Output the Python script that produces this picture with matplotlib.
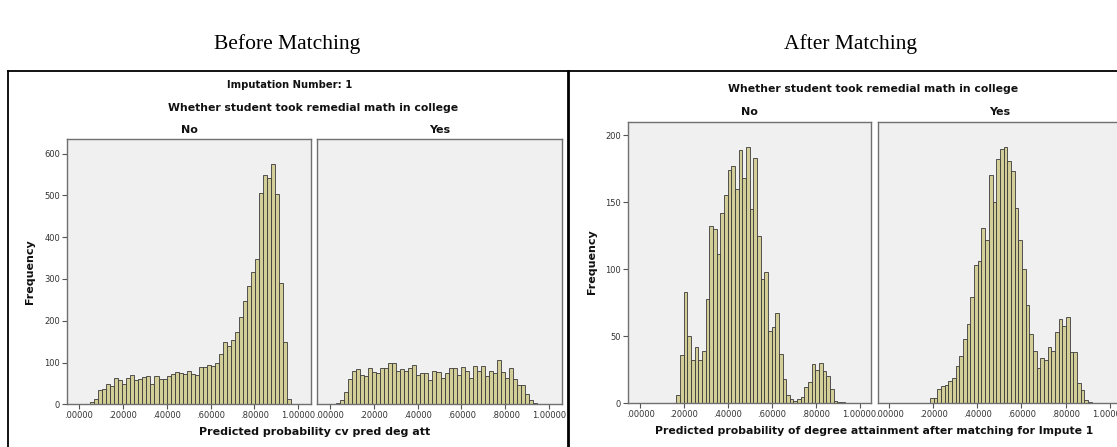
import numpy as np
import matplotlib
matplotlib.use("Agg")
import matplotlib.pyplot as plt
from matplotlib.lines import Line2D

# bar heights (frequency per bin)
before_no = [1, 6, 13, 35, 37, 49, 43, 62, 57, 49, 62, 70, 58, 60, 65, 68, 48, 68, 61, 61,
             68, 72, 77, 74, 73, 80, 72, 70, 89, 89, 95, 92, 100, 120, 148, 140, 153, 174,
             210, 248, 283, 316, 348, 505, 550, 541, 576, 503, 291, 150, 13]
before_yes = [1, 3, 10, 29, 60, 80, 85, 70, 67, 88, 78, 76, 88, 88, 100, 99, 80, 85, 80, 88,
              94, 69, 76, 76, 58, 80, 78, 64, 74, 86, 86, 69, 90, 79, 64, 91, 80, 91, 67, 80,
              74, 106, 77, 63, 88, 60, 45, 45, 24, 10, 4, 1]
after_no = [6, 36, 83, 50, 32, 42, 32, 39, 78, 132, 130, 111, 142, 155, 174, 177, 160, 189,
            168, 191, 145, 183, 125, 93, 98, 54, 57, 67, 37, 18, 6, 3, 1.5, 3, 5, 12, 16, 29,
            25, 30, 24, 20, 11, 2, 1, 1]
after_yes = [4, 4, 11, 13, 14, 17, 19, 28, 35, 48, 59, 79, 103, 106, 131, 122, 170, 150, 182,
             190, 191, 181, 173, 146, 122, 100, 73, 52, 39, 26, 34, 32, 42, 39, 53, 63, 58, 64,
             38, 38, 15, 10, 2.5, 1]

xticks = [0.0, 0.2, 0.4, 0.6, 0.8, 1.0]
xticklabels = [".00000", ".20000", ".40000", ".60000", ".80000", "1.00000"]

W, H = 1117, 447
BAR = "#d3ce97"
EDGE = "#3a3a3a"
FACE = "#f0f0f0"
SPINE = "#707070"

plt.rcParams["font.family"] = ["DejaVu Sans"]
fig = plt.figure(figsize=(W / 100, H / 100), dpi=100)


def box(l, t, r, b):
    return [l / W, 1 - b / H, (r - l) / W, (b - t) / H]


def panel(rect, heights, start, width, xlim, ylim, yticks):
    ax = fig.add_axes(rect)
    ax.set_facecolor(FACE)
    x = start + width * np.arange(len(heights))
    ax.bar(x, heights, width=width, align="edge", color=BAR, edgecolor=EDGE, linewidth=0.6)
    ax.set_xlim(*xlim)
    ax.set_ylim(*ylim)
    ax.set_xticks(xticks)
    ax.set_xticklabels(xticklabels)
    ax.set_yticks(yticks)
    for s in ax.spines.values():
        s.set_color(SPINE)
        s.set_linewidth(1.0)
    ax.tick_params(length=3.5, width=0.8, color="#555555", labelsize=6,
                   labelcolor="#333333", pad=1.5)
    return ax


# before matching
a1 = panel(box(67, 139, 311, 404.3), before_no, 0.033, 0.0183, (-0.055, 1.058), (0, 635),
           [0, 100, 200, 300, 400, 500, 600])
a2 = panel(box(317.3, 139, 561.7, 404.3), before_yes, 0.0105, 0.0183, (-0.058, 1.058), (0, 635),
           [0, 100, 200, 300, 400, 500, 600])
a2.set_yticks([])

# after matching
a3 = panel(box(628, 121.7, 871, 403.3), after_no, 0.1655, 0.01667, (-0.055, 1.052), (0, 210),
           [0, 50, 100, 150, 200])
a4 = panel(box(877.7, 121.7, 1121, 403.3), after_yes, 0.185, 0.01667, (-0.053, 1.052), (0, 210),
           [0, 50, 100, 150, 200])
a4.set_yticks([])


def txt(x, y, s, **kw):
    fig.text(x / W, 1 - y / H, s, ha="center", va="center", **kw)


txt(287.5, 44, "Before Matching", family="Liberation Serif", fontsize=15.5)
txt(850, 44, "After Matching", family="Liberation Serif", fontsize=15.5)

bold = dict(fontweight="bold", color="#111111")
txt(289.5, 85, "Imputation Number: 1", fontsize=7.2, **bold)
txt(313, 108, "Whether student took remedial math in college", fontsize=7.8, **bold)
txt(189, 130, "No", fontsize=8, **bold)
txt(439.5, 130, "Yes", fontsize=8, **bold)
txt(30, 272, "Frequency", fontsize=8, rotation=90, **bold)
txt(314.5, 432, "Predicted probability cv pred deg att", fontsize=8, **bold)

txt(873, 89, "Whether student took remedial math in college", fontsize=7.8, **bold)
txt(749.5, 111.7, "No", fontsize=8, **bold)
txt(1000, 111.7, "Yes", fontsize=8, **bold)
txt(592, 262, "Frequency", fontsize=8, rotation=90, **bold)
txt(874, 431, "Predicted probability of degree attainment after matching for Impute 1",
    fontsize=7.8, **bold)

# outer frames
def fline(xs, ys, lw=1.3):
    fig.add_artist(Line2D([x / W for x in xs], [1 - y / H for y in ys],
                          color="black", linewidth=lw))


fline([8, 1117], [70.5, 70.5])
fline([8, 8], [70.5, 447])
fline([567.5, 567.5], [70.5, 447], lw=2)

fig.savefig("out.png", dpi=100, facecolor="white")
